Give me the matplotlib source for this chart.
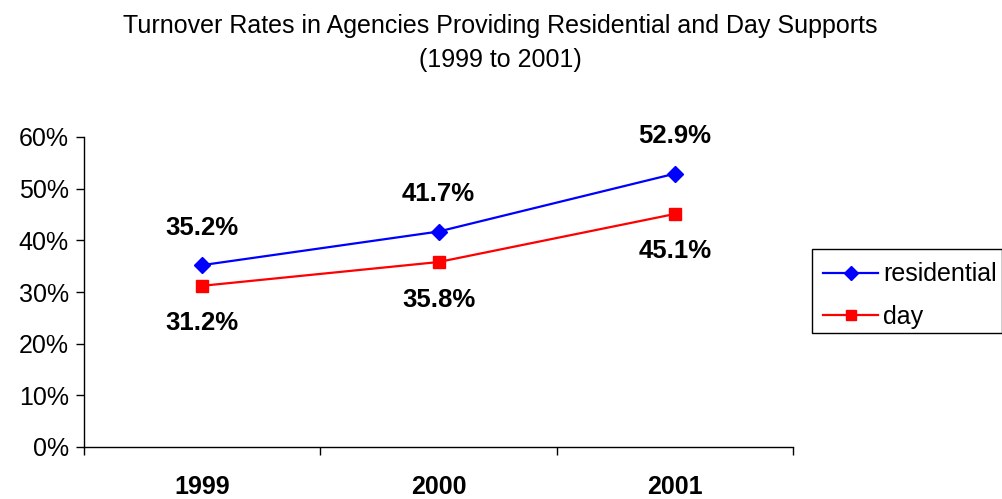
import matplotlib
matplotlib.use("Agg")
import matplotlib.pyplot as plt
from matplotlib.patches import Rectangle
from matplotlib.ticker import FixedLocator

plt.rcParams['font.family'] = ['Liberation Sans', 'DejaVu Sans']

years = ["1999", "2000", "2001"]
residential = [35.2, 41.7, 52.9]
day = [31.2, 35.8, 45.1]
y_ticks = [0, 10, 20, 30, 40, 50, 60]

W, H = 1003, 499
fig = plt.figure(figsize=(W / 100, H / 100), dpi=100)
ax = fig.add_axes([84 / W, (H - 447) / H, (793 - 84) / W, (447 - 137) / H])

x = list(range(1, len(years) + 1))
ax.plot(x, residential, color="#0000ff", marker="D", markersize=8, lw=1.6,
        label="residential")
ax.plot(x, day, color="#ff0000", marker="s", markersize=8, lw=1.6,
        label="day")

for xi, v in zip(x, residential):
    ax.annotate(f"{v:.1f}%", (xi, v), xytext=(0, 27), textcoords="offset points",
                ha="center", va="center", fontsize=18.5, fontweight="bold")
for xi, v in zip(x, day):
    ax.annotate(f"{v:.1f}%", (xi, v), xytext=(0, -27), textcoords="offset points",
                ha="center", va="center", fontsize=18.5, fontweight="bold")

ax.set_xlim(0.5, len(years) + 0.5)
ax.set_ylim(0, 60)
ax.set_yticks(y_ticks)
ax.set_yticklabels([f"{t}%" for t in y_ticks], fontsize=18)
ax.xaxis.set_major_locator(FixedLocator([0.5 + i for i in range(len(years) + 1)]))
ax.xaxis.set_minor_locator(FixedLocator(x))
ax.set_xticklabels([])
ax.set_xticklabels(years, minor=True, fontsize=18, fontweight="bold")
ax.tick_params(axis="x", which="major", direction="out", length=6, width=1)
ax.tick_params(axis="x", which="minor", length=0, pad=20)
ax.tick_params(axis="y", direction="out", length=6, width=1, pad=5)

for s in ["top", "right"]:
    ax.spines[s].set_visible(False)
for s in ["left", "bottom"]:
    ax.spines[s].set_linewidth(1)

fig.text(500 / W, 1 - 26 / H, "Turnover Rates in Agencies Providing Residential and Day Supports",
         ha="center", va="center", fontsize=18)
fig.text(500 / W, 1 - 60 / H, "(1999 to 2001)", ha="center", va="center", fontsize=18)

# legend entries without their own frame; the box is drawn separately
leg = fig.legend(loc="upper left", bbox_to_anchor=(812 / W, 1 - 251 / H),
                 frameon=False, fontsize=18, handlelength=2.2,
                 borderaxespad=0, borderpad=0.45,
                 labelspacing=0.75, handletextpad=0.2, markerscale=0.9)
fig.add_artist(Rectangle((812 / W, 1 - 333 / H), (1002 - 812) / W, (333 - 249) / H,
                         transform=fig.transFigure, fill=False,
                         edgecolor="black", linewidth=1))

fig.savefig("out.png", dpi=100)
